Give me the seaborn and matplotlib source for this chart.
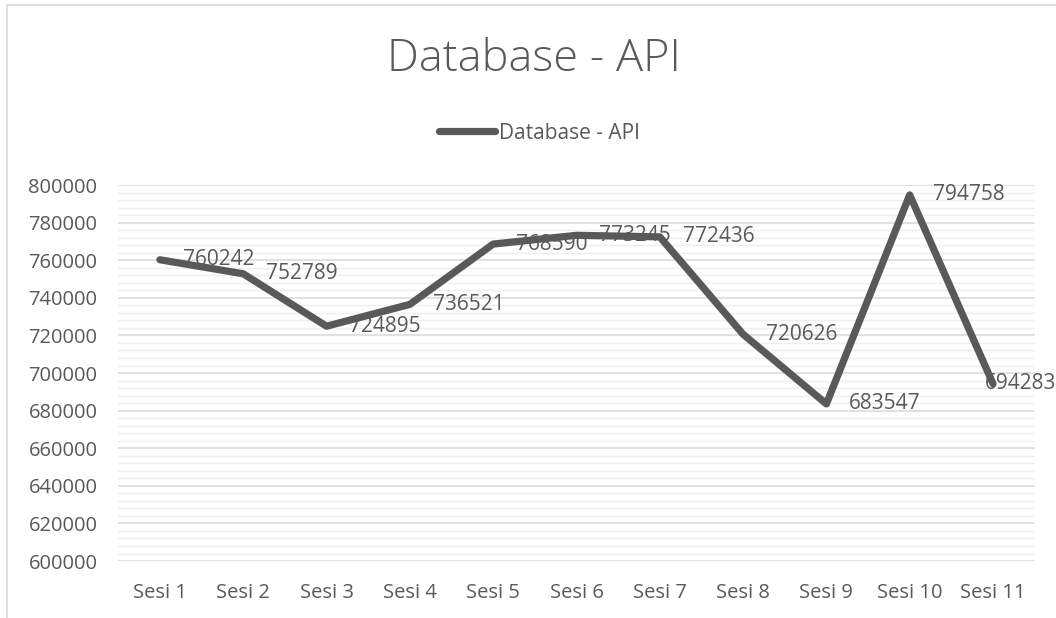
import matplotlib
matplotlib.use("Agg")
import matplotlib.pyplot as plt
import seaborn as sns
import pandas as pd
from matplotlib.patches import Rectangle
from matplotlib.ticker import MultipleLocator

# ---- data ----
categories = ["Sesi 1", "Sesi 2", "Sesi 3", "Sesi 4", "Sesi 5", "Sesi 6",
              "Sesi 7", "Sesi 8", "Sesi 9", "Sesi 10", "Sesi 11"]
values = [760242, 752789, 724895, 736521, 768590, 773245,
          772436, 720626, 683547, 794758, 694283]
series_name = "Database - API"
title = "Database - API"

sns.set_theme(style="white")
plt.rcParams["font.family"] = ["Open Sans", "DejaVu Sans"]

TXT = "#595959"
LINE = "#595959"

fig = plt.figure(figsize=(10.56, 6.18), dpi=100)
fig.patch.set_facecolor("white")
ax = fig.add_axes([0.112, 0.0922, 0.8678, 0.6084])

df = pd.DataFrame({"cat": categories, "val": values})
sns.lineplot(data=df, x="cat", y="val", ax=ax, color=LINE, linewidth=5.2,
             sort=False, label=series_name, legend=False)
for ln in ax.lines:
    ln.set_solid_capstyle("round")
    ln.set_solid_joinstyle("round")

ax.set_xlim(-0.5, len(categories) - 0.5)
ax.set_ylim(600000, 800000)
ax.yaxis.set_major_locator(MultipleLocator(20000))
ax.yaxis.set_minor_locator(MultipleLocator(4000))
ax.grid(which="major", axis="y", color="#d9d9d9", linewidth=1.1)
ax.grid(which="minor", axis="y", color="#efefef", linewidth=1.0)
ax.grid(which="major", axis="x", visible=False)
ax.set_axisbelow(True)
for s in ax.spines.values():
    s.set_visible(False)
ax.set_xlabel("")
ax.set_ylabel("")
ax.tick_params(axis="y", which="both", length=0, pad=15, labelsize=14.5, labelcolor=TXT)
ax.tick_params(axis="x", which="both", length=0, pad=16, labelsize=14.5, labelcolor=TXT)
ax.yaxis.set_major_formatter(matplotlib.ticker.FuncFormatter(lambda v, p: f"{int(v)}"))

# data labels
for i, v in enumerate(values):
    dx = 16.5 if i < len(values) - 1 else -6
    ax.annotate(str(v), xy=(i, v), xytext=(dx, 0), textcoords="offset points",
                ha="left", va="center", fontsize=15, color=TXT,
                annotation_clip=False)

# title
fig.text(0.5057, 1 - 60 / 618, title, ha="center", va="center",
         fontsize=32.5, color=TXT, fontweight="light")

# legend
leg = fig.legend(handles=ax.lines[:1], labels=[series_name],
                 loc="center", bbox_to_anchor=(0.511, 1 - 133 / 618),
                 frameon=False, fontsize=15, handlelength=2.7,
                 handletextpad=0.2, labelcolor=TXT)
for h in leg.legend_handles:
    h.set_linewidth(5.2)
    h.set_solid_capstyle("round")

# chart-area border (cropped on right/bottom)
fig.patches.append(Rectangle((7 / 1056, -0.2), 1.5, 1.2 - 5 / 618,
                             transform=fig.transFigure, fill=False,
                             edgecolor="#d9d9d9", linewidth=1.2))

fig.savefig("out.png", dpi=100, facecolor="white")
